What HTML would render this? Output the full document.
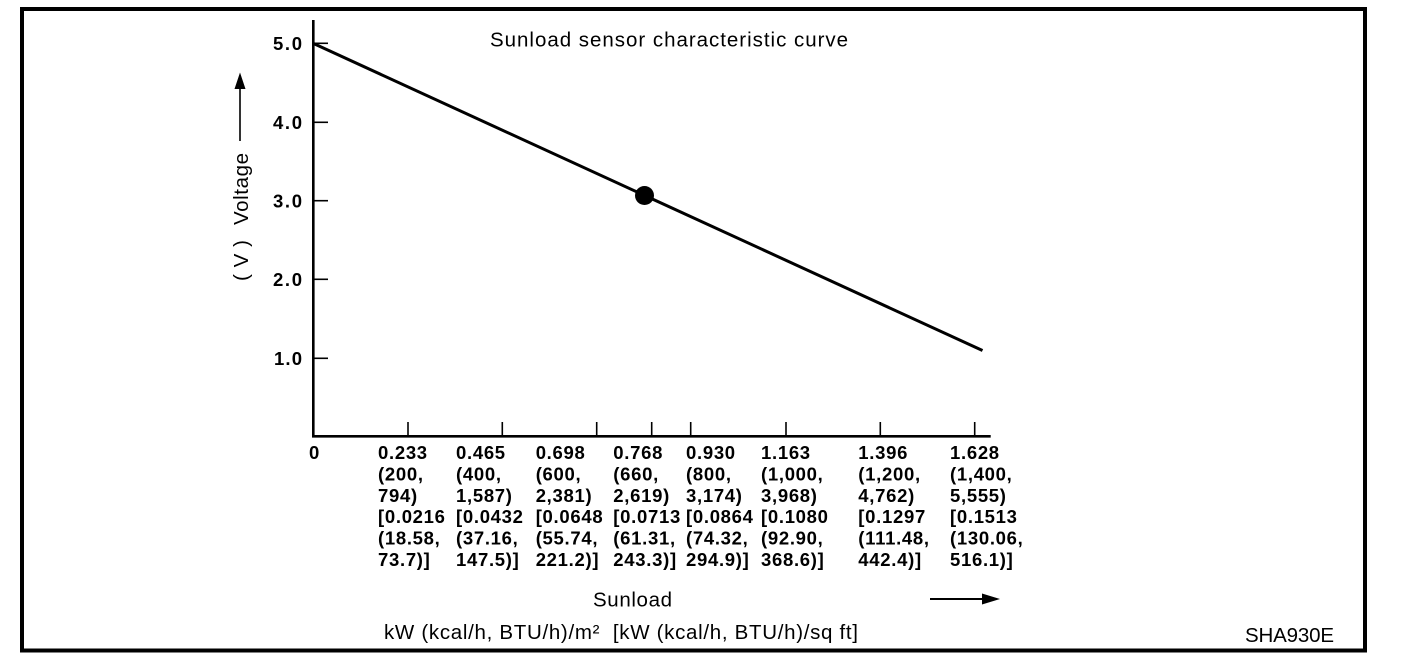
<!DOCTYPE html>
<html>
<head>
<meta charset="utf-8">
<style>
  html, body { margin: 0; padding: 0; background: #fff; }
  svg { display: block; }
  text { font-family: "Liberation Sans", Arial, sans-serif; fill: #000; }
  .b { font-weight: bold; font-size: 18.5px; }
  .r { font-size: 20.5px; }
</style>
</head>
<body>
<svg width="1408" height="664" viewBox="0 0 1408 664" xmlns="http://www.w3.org/2000/svg">
  <rect x="0" y="0" width="1408" height="664" fill="#fff"/>
  <!-- frame -->
  <rect x="22" y="9" width="1343" height="641.5" fill="none" stroke="#000" stroke-width="4"/>

  <!-- axes -->
  <line x1="313.3" y1="20" x2="313.3" y2="437.5" stroke="#000" stroke-width="2.6"/>
  <line x1="312" y1="436.3" x2="990.7" y2="436.3" stroke="#000" stroke-width="2.6"/>

  <!-- y ticks -->
  <g stroke="#000" stroke-width="1.6">
    <line x1="313" y1="43.3" x2="328" y2="43.3"/>
    <line x1="313" y1="122.3" x2="328" y2="122.3"/>
    <line x1="313" y1="200.7" x2="328" y2="200.7"/>
    <line x1="313" y1="279.3" x2="328" y2="279.3"/>
    <line x1="313" y1="358.3" x2="328" y2="358.3"/>
  </g>
  <!-- x ticks -->
  <g stroke="#000" stroke-width="1.6">
    <line x1="408" y1="422" x2="408" y2="436"/>
    <line x1="502.3" y1="422" x2="502.3" y2="436"/>
    <line x1="596.7" y1="422" x2="596.7" y2="436"/>
    <line x1="651.7" y1="422" x2="651.7" y2="436"/>
    <line x1="690.7" y1="422" x2="690.7" y2="436"/>
    <line x1="786" y1="422" x2="786" y2="436"/>
    <line x1="880.3" y1="422" x2="880.3" y2="436"/>
    <line x1="974.7" y1="422" x2="974.7" y2="436"/>
  </g>

  <!-- y labels -->
  <text class="b" x="273" y="50" textLength="29" lengthAdjust="spacing">5.0</text>
  <text class="b" x="273" y="129" textLength="29" lengthAdjust="spacing">4.0</text>
  <text class="b" x="273" y="207.5" textLength="29" lengthAdjust="spacing">3.0</text>
  <text class="b" x="273" y="286" textLength="29" lengthAdjust="spacing">2.0</text>
  <text class="b" x="274" y="365" textLength="28" lengthAdjust="spacing">1.0</text>
  <text class="b" x="309" y="459">0</text>

  <!-- y axis title -->
  <text class="r" transform="translate(248,225) rotate(-90)" x="0" y="0" textLength="72" lengthAdjust="spacing">Voltage</text>
  <text class="r" transform="translate(248,281) rotate(-90)" x="0" y="0" textLength="41" lengthAdjust="spacing">(V)</text>
  <line x1="240" y1="141" x2="240" y2="86" stroke="#000" stroke-width="1.6"/>
  <polygon points="240,72.5 234.5,89 245.5,89" fill="#000"/>

  <!-- title -->
  <text class="r" x="490" y="46.5" textLength="358" lengthAdjust="spacing">Sunload sensor characteristic curve</text>

  <!-- curve -->
  <line x1="313" y1="43.3" x2="982.5" y2="350.5" stroke="#000" stroke-width="3"/>
  <circle cx="644.5" cy="195.5" r="9.5" fill="#000"/>

  <!-- x labels -->
  <g class="b" letter-spacing="0.7">
    <text x="378" y="459">0.233</text>
    <text x="378" y="480.4">(200,</text>
    <text x="378" y="501.8">794)</text>
    <text x="378" y="523.2">[0.0216</text>
    <text x="378" y="544.6">(18.58,</text>
    <text x="378" y="566">73.7)]</text>

    <text x="456" y="459">0.465</text>
    <text x="456" y="480.4">(400,</text>
    <text x="456" y="501.8">1,587)</text>
    <text x="456" y="523.2">[0.0432</text>
    <text x="456" y="544.6">(37.16,</text>
    <text x="456" y="566">147.5)]</text>

    <text x="535.7" y="459">0.698</text>
    <text x="535.7" y="480.4">(600,</text>
    <text x="535.7" y="501.8">2,381)</text>
    <text x="535.7" y="523.2">[0.0648</text>
    <text x="535.7" y="544.6">(55.74,</text>
    <text x="535.7" y="566">221.2)]</text>

    <text x="613.3" y="459">0.768</text>
    <text x="613.3" y="480.4">(660,</text>
    <text x="613.3" y="501.8">2,619)</text>
    <text x="613.3" y="523.2">[0.0713</text>
    <text x="613.3" y="544.6">(61.31,</text>
    <text x="613.3" y="566">243.3)]</text>

    <text x="686" y="459">0.930</text>
    <text x="686" y="480.4">(800,</text>
    <text x="686" y="501.8">3,174)</text>
    <text x="686" y="523.2">[0.0864</text>
    <text x="686" y="544.6">(74.32,</text>
    <text x="686" y="566">294.9)]</text>

    <text x="761" y="459">1.163</text>
    <text x="761" y="480.4">(1,000,</text>
    <text x="761" y="501.8">3,968)</text>
    <text x="761" y="523.2">[0.1080</text>
    <text x="761" y="544.6">(92.90,</text>
    <text x="761" y="566">368.6)]</text>

    <text x="858.3" y="459">1.396</text>
    <text x="858.3" y="480.4">(1,200,</text>
    <text x="858.3" y="501.8">4,762)</text>
    <text x="858.3" y="523.2">[0.1297</text>
    <text x="858.3" y="544.6">(111.48,</text>
    <text x="858.3" y="566">442.4)]</text>

    <text x="950" y="459">1.628</text>
    <text x="950" y="480.4">(1,400,</text>
    <text x="950" y="501.8">5,555)</text>
    <text x="950" y="523.2">[0.1513</text>
    <text x="950" y="544.6">(130.06,</text>
    <text x="950" y="566">516.1)]</text>
  </g>

  <!-- x axis title -->
  <text class="r" x="593" y="606.5" textLength="79" lengthAdjust="spacing">Sunload</text>
  <text class="r" x="384" y="639" textLength="474" lengthAdjust="spacing">kW (kcal/h, BTU/h)/m²&#160;&#160;[kW (kcal/h, BTU/h)/sq ft]</text>
  <line x1="930" y1="599" x2="986" y2="599" stroke="#000" stroke-width="2"/>
  <polygon points="1000,599 982,593.5 982,604.5" fill="#000"/>

  <!-- code -->
  <text class="r" x="1245" y="642" textLength="89" lengthAdjust="spacing">SHA930E</text>
</svg>
</body>
</html>
